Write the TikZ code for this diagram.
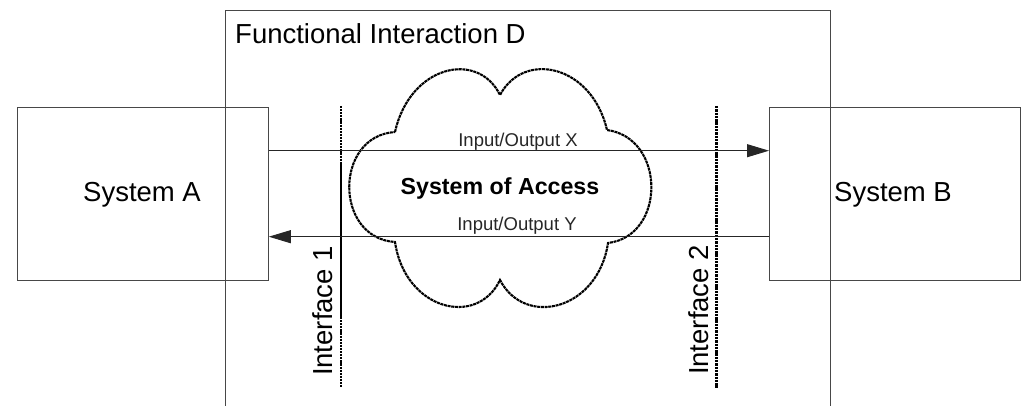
\documentclass[tikz,border=0pt]{standalone}
\usepackage{fontspec}
\setmainfont{Liberation Sans}
\usetikzlibrary{arrows.meta}
\tikzset{
  sysbox/.style={draw=black!72, line width=1.3pt, inner sep=0pt},
  flow/.style={draw=black!85, line width=1pt, -{Triangle[length=22pt,width=13pt]}},
  bigtxt/.style={inner sep=0pt, font=\fontsize{27.5}{33}\selectfont},
  smalltxt/.style={inner sep=0pt, font=\fontsize{18.5}{22}\selectfont, text=black!85},
  cloudline/.style={line width=2.1pt, dash pattern=on 3pt off 0.7pt},
  ifdots/.style={line width=1.8pt, dash pattern=on 2.2pt off 0.9pt},
  ifsolid/.style={line width=1.7pt},
  ifthick/.style={line width=3pt, dash pattern=on 2.4pt off 0.9pt}
}
\begin{document}
\begin{tikzpicture}[x=1pt,y=-1pt]
\useasboundingbox (0,0) rectangle (1021,406);
\clip (0,0) rectangle (1021,406);
% Functional interaction box (open at the bottom edge)
\node[sysbox, anchor=north west, minimum width=605pt, minimum height=430pt] (D) at (225,10) {};
\node[bigtxt, anchor=base west] (Dlbl) at (235,43.3) {Functional Interaction D};
% systems
\node[sysbox, anchor=north west, minimum width=250.5pt, minimum height=173.3pt] (A) at (17,106.7) {};
\node[bigtxt, anchor=base] (Albl) at (142,201.7) {System A};
\node[sysbox, anchor=north west, minimum width=250.5pt, minimum height=173.3pt] (B) at (769,106.7) {};
\node[bigtxt, anchor=base] (Blbl) at (893,201.7) {System B};
% cloud
\draw[cloudline] (395,132)
  .. controls (410,65) and (478,50) .. (500,95)
  .. controls (524,50) and (592,65) .. (607,130)
  .. controls (666,138) and (666,236) .. (608,243)
  .. controls (598,310) and (525,328) .. (500,280)
  .. controls (477,328) and (405,310) .. (395,242)
  .. controls (334,238) and (334,136) .. cycle;
\node[inner sep=0pt, font=\fontsize{23.2}{28}\selectfont\bfseries, anchor=base] (acc) at (500,195) {System of Access};
% interfaces
\coordinate (i1a) at (340.7,106);
\coordinate (i1b) at (340.7,163);
\coordinate (i1c) at (340.7,317);
\coordinate (i1d) at (340.7,388);
\draw[ifdots] (i1a) -- (i1b);
\draw[ifsolid] (i1b) -- (i1c);
\draw[ifdots] (i1c) -- (i1d);
\coordinate (i2a) at (716,106);
\coordinate (i2d) at (716,388);
\draw[ifthick] (i2a) -- (i2d);
\node[bigtxt, anchor=base, rotate=90] (if1) at (332.7,311) {Interface 1};
\node[bigtxt, anchor=base, rotate=90] (if2) at (708,310) {Interface 2};
% flows
\coordinate (xrow) at (0,150.7);
\coordinate (yrow) at (0,236.7);
\draw[flow] (A.east |- xrow) -- (B.west |- xrow);
\draw[flow] (B.west |- yrow) -- (A.east |- yrow);
\node[smalltxt, anchor=base] (xl) at (518,147) {Input/Output X};
\node[smalltxt, anchor=base] (yl) at (517,231) {Input/Output Y};
\end{tikzpicture}
\end{document}
